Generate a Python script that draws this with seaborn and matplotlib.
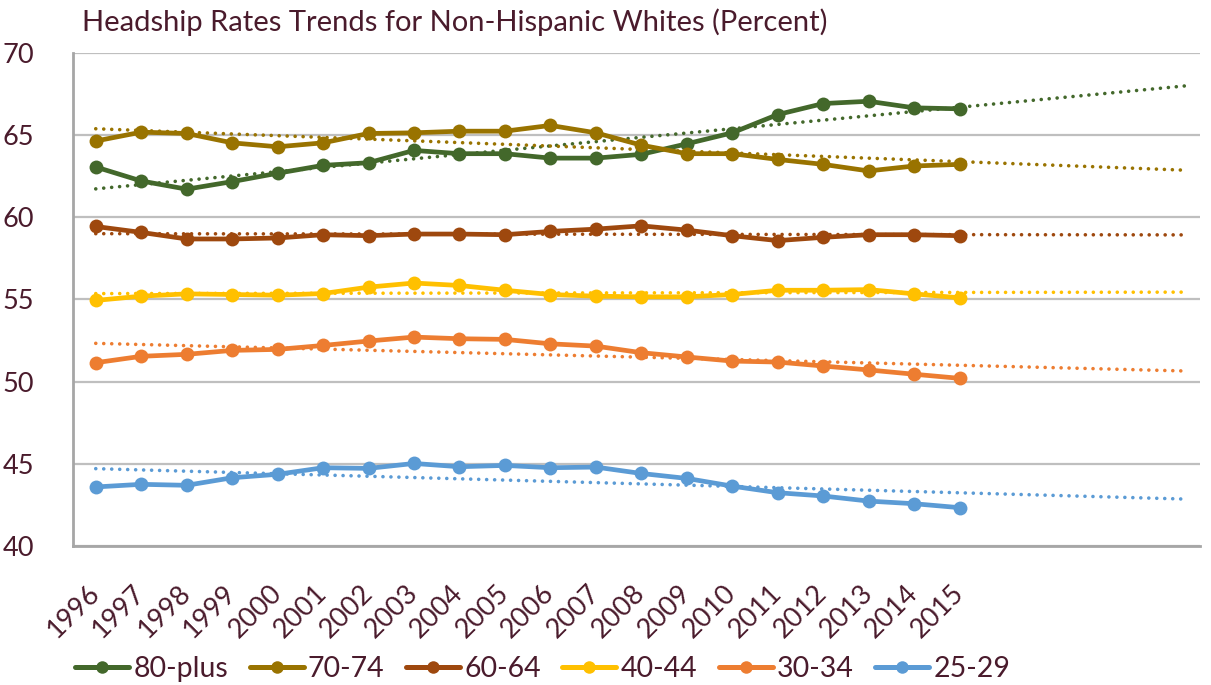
import numpy as np
import pandas as pd
import matplotlib
matplotlib.use("Agg")
import matplotlib.pyplot as plt
import seaborn as sns

years = list(range(1996, 2016))

rate_80_plus = [63.06, 62.21, 61.71, 62.17, 62.68, 63.16, 63.32, 64.07, 63.87, 63.87,
                63.60, 63.60, 63.83, 64.47, 65.14, 66.25, 66.92, 67.06, 66.66, 66.60]
rate_70_74 = [64.64, 65.18, 65.10, 64.53, 64.29, 64.53, 65.10, 65.14, 65.24, 65.24,
              65.59, 65.14, 64.39, 63.87, 63.87, 63.52, 63.22, 62.82, 63.12, 63.22]
rate_60_64 = [59.44, 59.08, 58.68, 58.68, 58.74, 58.94, 58.88, 58.98, 58.98, 58.94,
              59.14, 59.28, 59.48, 59.22, 58.88, 58.58, 58.78, 58.94, 58.94, 58.88]
rate_40_44 = [54.94, 55.20, 55.34, 55.30, 55.26, 55.36, 55.75, 56.00, 55.85, 55.56,
              55.30, 55.20, 55.16, 55.16, 55.30, 55.56, 55.56, 55.60, 55.34, 55.10]
rate_30_34 = [51.15, 51.54, 51.66, 51.90, 51.96, 52.20, 52.47, 52.71, 52.61, 52.57,
              52.30, 52.16, 51.76, 51.50, 51.25, 51.19, 50.95, 50.71, 50.45, 50.20]
rate_25_29 = [43.59, 43.75, 43.69, 44.15, 44.36, 44.76, 44.72, 45.02, 44.82, 44.90,
              44.76, 44.80, 44.41, 44.11, 43.64, 43.24, 43.04, 42.73, 42.57, 42.33]

series_names = ["80-plus", "70-74", "60-64", "40-44", "30-34", "25-29"]
series_values = [rate_80_plus, rate_70_74, rate_60_64, rate_40_44, rate_30_34, rate_25_29]
series_colors = ["#43682B", "#997300", "#9E480E", "#FFC000", "#ED7D31", "#5B9BD5"]

y_ticks = [40, 45, 50, 55, 60, 65, 70]
forecast_years = 5

text_color = "#4A1B2C"

sns.set_theme(style="white")
plt.rcParams["font.family"] = ["Lato", "DejaVu Sans"]

df = pd.DataFrame({"year": years * len(series_names),
                   "group": np.repeat(series_names, len(years)),
                   "rate": np.concatenate(series_values)})

fig = plt.figure(figsize=(12.11, 6.85), dpi=100)
ax = fig.add_axes([0.0603, 0.203, 0.931, 0.7197])

# horizontal gridlines
for v in y_ticks:
    ax.axhline(v, color="#BFBFBF", lw=1.6, zorder=0)

# linear trendlines with a forward forecast, drawn as round dots
trend_x = np.array([years[0], years[-1] + forecast_years], dtype=float)
for name, vals, col in zip(series_names, series_values, series_colors):
    k, b = np.polyfit(years, vals, 1)
    ax.plot(trend_x, k * trend_x + b, color=col, lw=2.6,
            linestyle=(0, (0.01, 2.2)), dash_capstyle="round", zorder=2)

sns.lineplot(data=df, x="year", y="rate", hue="group", hue_order=series_names,
             palette=series_colors, marker="o", markersize=10, markeredgewidth=0,
             linewidth=3.4, ax=ax, legend=False, zorder=3)

ax.set_xlim(1995.5, 2020.3)
ax.set_ylim(40, 70)
ax.set_yticks(y_ticks)
ax.set_yticklabels([str(v) for v in y_ticks], fontsize=19.5, color=text_color)
ax.set_xticks(years)
ax.set_xticklabels([str(y) for y in years], fontsize=19.5, color=text_color,
                   rotation=45, ha="right", va="center", rotation_mode="anchor")
ax.tick_params(axis="y", length=0, pad=28)
ax.tick_params(axis="x", length=0, pad=31)
ax.set_xlabel("")
ax.set_ylabel("")

for side in ["top", "right"]:
    ax.spines[side].set_visible(False)
for side in ["left", "bottom"]:
    ax.spines[side].set_color("#A6A6A6")
    ax.spines[side].set_linewidth(2.0)

# legend built from the same series styles
handles = [plt.Line2D([0], [0], color=c, lw=3.6, marker="o", markersize=9,
                      markeredgewidth=0, solid_capstyle="round") for c in series_colors]
fig.legend(handles, series_names, loc="center left", bbox_to_anchor=(0.062, 0.024),
           ncol=6, frameon=False, fontsize=20.5, labelcolor=text_color,
           handlelength=1.9, handletextpad=0.15, columnspacing=0.75,
           borderpad=0, borderaxespad=0)

fig.text(0.068, 0.968, "Headship Rates Trends for Non-Hispanic Whites (Percent)",
         fontsize=21, color=text_color, ha="left", va="center")

fig.savefig("out.png", dpi=100)
